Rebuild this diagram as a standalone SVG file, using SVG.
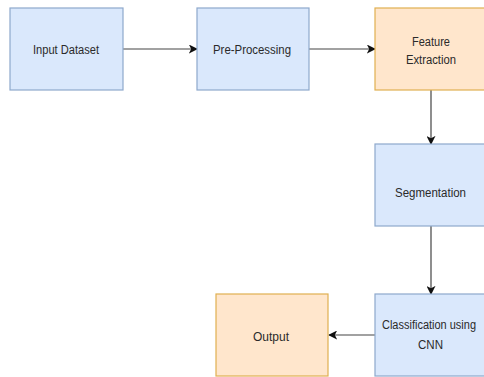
<svg xmlns="http://www.w3.org/2000/svg" width="484" height="377" viewBox="0 0 484 377">
  <defs>
    <marker id="arr" viewBox="0 0 10 10" refX="9" refY="5" markerWidth="9" markerHeight="9" markerUnits="userSpaceOnUse" orient="auto">
      <path d="M0,0 L10,5 L0,10 L2.5,5 Z" fill="#111"/>
    </marker>
    <style>
      .blue { fill: #dae8fc; stroke: #8ea8cc; stroke-width: 1.2; }
      .orange { fill: #ffe6cc; stroke: #e0b050; stroke-width: 1.2; }
      .lbl { font-family: "Liberation Sans", Arial, sans-serif; font-size: 12px; fill: #2a2a2a; text-anchor: middle; }
      .edge { stroke: #444; stroke-width: 1.2; fill: none; marker-end: url(#arr); }
    </style>
  </defs>
  <rect width="484" height="377" fill="#ffffff"/>
  <g id="connectors">
    <line class="edge" x1="123" y1="49" x2="197" y2="49"/>
    <line class="edge" x1="309" y1="49" x2="375" y2="49"/>
    <line class="edge" x1="431" y1="90" x2="431" y2="144"/>
    <line class="edge" x1="431" y1="226" x2="431" y2="294"/>
    <line class="edge" x1="375" y1="335" x2="329" y2="335"/>
  </g>
  <g id="input-dataset">
    <rect class="blue" x="10" y="8" width="113" height="82"/>
    <text class="lbl" x="66" y="54" textLength="66" lengthAdjust="spacingAndGlyphs">Input Dataset</text>
  </g>
  <g id="pre-processing">
    <rect class="blue" x="197" y="8" width="112" height="82"/>
    <text class="lbl" x="252" y="54" textLength="78" lengthAdjust="spacingAndGlyphs">Pre-Processing</text>
  </g>
  <g id="feature-extraction">
    <rect class="orange" x="375" y="8" width="112" height="82"/>
    <text class="lbl" x="431" y="46" textLength="38" lengthAdjust="spacingAndGlyphs">Feature</text>
    <text class="lbl" x="431" y="64" textLength="50" lengthAdjust="spacingAndGlyphs">Extraction</text>
  </g>
  <g id="segmentation">
    <rect class="blue" x="375" y="144" width="112" height="82"/>
    <text class="lbl" x="430.5" y="197" textLength="71" lengthAdjust="spacingAndGlyphs">Segmentation</text>
  </g>
  <g id="classification">
    <rect class="blue" x="375" y="294" width="112" height="82"/>
    <text class="lbl" x="429" y="329" textLength="94" lengthAdjust="spacingAndGlyphs">Classification using</text>
    <text class="lbl" x="430.5" y="349" textLength="25" lengthAdjust="spacingAndGlyphs">CNN</text>
  </g>
  <g id="output">
    <rect class="orange" x="216" y="294" width="112" height="82"/>
    <text class="lbl" x="271" y="341" textLength="36" lengthAdjust="spacingAndGlyphs">Output</text>
  </g>
</svg>
